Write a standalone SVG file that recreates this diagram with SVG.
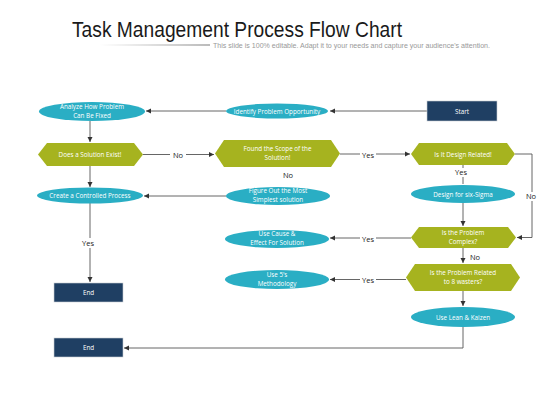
<svg xmlns="http://www.w3.org/2000/svg" width="560" height="420" viewBox="0 0 560 420">
<defs>
<marker id="ah" markerWidth="6" markerHeight="6" refX="5" refY="3" orient="auto" markerUnits="userSpaceOnUse">
<path d="M0,0.5 L5,3 L0,5.5 Z" fill="#333"/>
</marker>
<linearGradient id="ul" x1="0" x2="1" y1="0" y2="0">
<stop offset="0" stop-color="#fff"/>
<stop offset="1" stop-color="#777"/>
</linearGradient>
</defs>
<style>
.ell{fill:#2aaec4}
.hex{fill:#a6b31f}
.rect{fill:#1f3f63;stroke:#c8ccd2;stroke-width:0.6}
.t{font-family:"Open Sans","Liberation Sans",sans-serif;font-size:6.3px;fill:#fff;text-anchor:middle}
.lbl{font-family:"Open Sans","Liberation Sans",sans-serif;font-size:7.5px;fill:#222;text-anchor:middle}
.c{fill:none;stroke:#555;stroke-width:0.9}
</style>
<rect width="560" height="420" fill="#fff"/>
<text x="72" y="37" font-family="Liberation Sans, Arial, sans-serif" font-size="22" fill="#1a1a1a" textLength="330" lengthAdjust="spacingAndGlyphs">Task Management Process Flow Chart</text>
<rect x="100" y="44.5" width="110" height="1" fill="url(#ul)"/>
<text x="213" y="48" font-family="Liberation Sans, Arial, sans-serif" font-size="6.8" fill="#999" textLength="277" lengthAdjust="spacingAndGlyphs">This slide is 100% editable. Adapt it to your needs and capture your audience's attention.</text>

<g id="connectors">
<path class="c" d="M427,111 H330" marker-end="url(#ah)"/>
<path class="c" d="M226,111 H146" marker-end="url(#ah)"/>
<path class="c" d="M90,121 V142" marker-end="url(#ah)"/>
<path class="c" d="M143,154.5 H214" marker-end="url(#ah)"/>
<path class="c" d="M340,154 H410" marker-end="url(#ah)"/>
<path class="c" d="M90,166 V187" marker-end="url(#ah)"/>
<path class="c" d="M90,203 V282" marker-end="url(#ah)"/>
<path class="c" d="M226,196 H144" marker-end="url(#ah)"/>
<path class="c" d="M463,165 V184"/>
<path class="c" d="M515,154 H532 V237.5 H517" marker-end="url(#ah)"/>
<path class="c" d="M463,203 V226" marker-end="url(#ah)"/>
<path class="c" d="M463,248 V263" marker-end="url(#ah)"/>
<path class="c" d="M463,291 V306" marker-end="url(#ah)"/>
<path class="c" d="M411,238 H330" marker-end="url(#ah)"/>
<path class="c" d="M406,279.5 H330" marker-end="url(#ah)"/>
<path class="c" d="M463,327 V348 H124" marker-end="url(#ah)"/>
<rect x="170" y="150" width="16" height="9" fill="#fff"/>
<text class="lbl" x="178" y="157.5">No</text>
<rect x="360" y="150" width="16" height="9" fill="#fff"/>
<text class="lbl" x="368" y="157.5">Yes</text>
<rect x="80" y="238" width="18" height="10" fill="#fff"/>
<text class="lbl" x="88" y="245.5">Yes</text>
<text class="lbl" x="288" y="178">No</text>
<rect x="453" y="168" width="16" height="9" fill="#fff"/>
<text class="lbl" x="461" y="175">Yes</text>
<rect x="523" y="192" width="16" height="9" fill="#fff"/>
<text class="lbl" x="531" y="199">No</text>
<rect x="467" y="253" width="16" height="9" fill="#fff"/>
<text class="lbl" x="475" y="260">No</text>
<rect x="360" y="234" width="16" height="9" fill="#fff"/>
<text class="lbl" x="368" y="241.5">Yes</text>
<rect x="360" y="275" width="16" height="9" fill="#fff"/>
<text class="lbl" x="368" y="282.5">Yes</text>
</g>

<g id="start">
<rect class="rect" x="427" y="101" width="70" height="20"/>
<text class="t" x="462" y="113.5">Start</text>
</g>
<g id="identify">
<ellipse class="ell" cx="277" cy="111" rx="51" ry="7.5"/>
<text class="t" x="277" y="113.5">Identify Problem Opportunity</text>
</g>
<g id="analyze">
<ellipse class="ell" cx="92" cy="111.5" rx="53" ry="9.5"/>
<text class="t" x="92" y="108.5">Analyze How Problem</text>
<text class="t" x="92" y="117.5">Can Be Fixed</text>
</g>
<g id="solution-exist">
<polygon class="hex" points="38,154.5 47,143 134,143 143,154.5 134,166 47,166"/>
<text class="t" x="90" y="157">Does a Solution Exist!</text>
</g>
<g id="found-scope">
<polygon class="hex" points="215,153.5 224,140 331,140 340,153.5 331,167 224,167"/>
<text class="t" x="277.5" y="151">Found the Scope of the</text>
<text class="t" x="277.5" y="160">Solution!</text>
</g>
<g id="design-related">
<polygon class="hex" points="411,154 419,143 507,143 515,154 507,165 419,165"/>
<text class="t" x="463" y="156.5">Is It Design Related!</text>
</g>
<g id="create-process">
<ellipse class="ell" cx="90" cy="195.5" rx="53" ry="8"/>
<text class="t" x="90" y="198">Create a Controlled Process</text>
</g>
<g id="figure-out">
<ellipse class="ell" cx="278" cy="196" rx="52" ry="9"/>
<text class="t" x="278" y="193">Figure Out the Most</text>
<text class="t" x="278" y="202">Simplest solution</text>
</g>
<g id="six-sigma">
<ellipse class="ell" cx="463" cy="194" rx="52" ry="9"/>
<text class="t" x="463" y="196.5">Design for six-Sigma</text>
</g>
<g id="problem-complex">
<polygon class="hex" points="411,237.5 419,227 508,227 516,237.5 508,248 419,248"/>
<text class="t" x="463" y="235">Is the Problem</text>
<text class="t" x="463" y="244">Complex?</text>
</g>
<g id="cause-effect">
<ellipse class="ell" cx="277" cy="239" rx="52" ry="9"/>
<text class="t" x="277" y="236">Use Cause &amp;</text>
<text class="t" x="277" y="245">Effect For Solution</text>
</g>
<g id="wasters">
<polygon class="hex" points="406,277.5 415,264 511,264 520,277.5 511,291 415,291"/>
<text class="t" x="463" y="275">Is the Problem Related</text>
<text class="t" x="463" y="284">to 8 wasters?</text>
</g>
<g id="fives">
<ellipse class="ell" cx="277" cy="279.5" rx="52" ry="9.5"/>
<text class="t" x="277" y="276.5">Use 5's</text>
<text class="t" x="277" y="285.5">Methodology</text>
</g>
<g id="end1">
<rect class="rect" x="54" y="283" width="69" height="19"/>
<text class="t" x="88.5" y="295">End</text>
</g>
<g id="lean-kaizen">
<ellipse class="ell" cx="463" cy="317" rx="52" ry="10"/>
<text class="t" x="463" y="319.5">Use Lean &amp; Kaizen</text>
</g>
<g id="end2">
<rect class="rect" x="54" y="338" width="69" height="19"/>
<text class="t" x="88.5" y="350">End</text>
</g>
</svg>
